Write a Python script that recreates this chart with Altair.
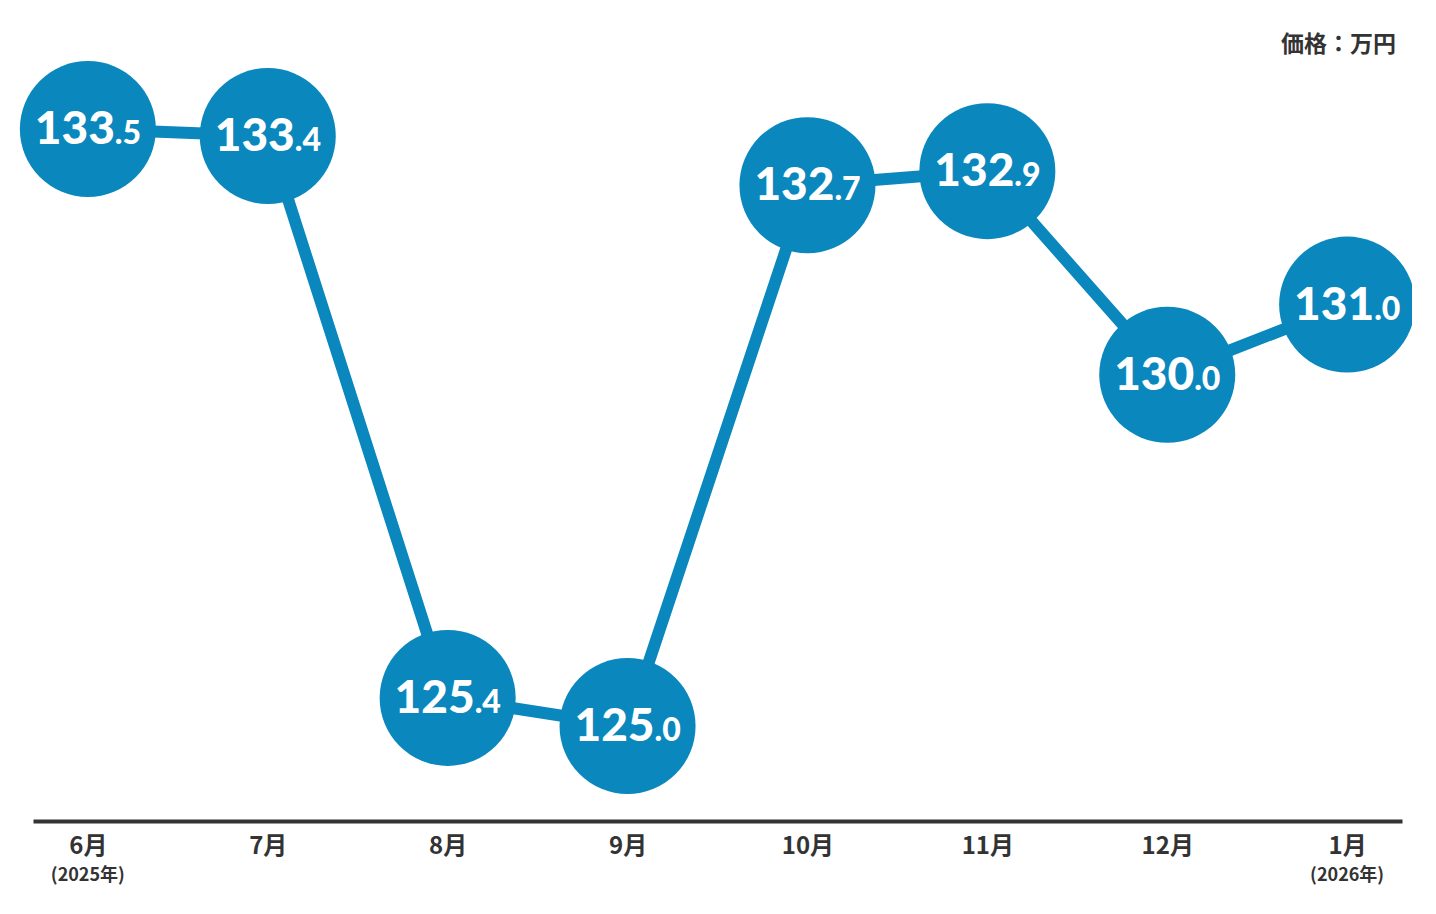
import altair as alt
import pandas as pd

months = ["6月", "7月", "8月", "9月", "10月", "11月", "12月", "1月"]
prices = [133.5, 133.4, 125.4, 125.0, 132.7, 132.9, 130.0, 131.0]
year_notes = ["(2025年)", "", "", "", "", "", "", "(2026年)"]
unit_label = "価格：万円"

BLUE = "#0a87bd"
DARK = "#333333"

df = pd.DataFrame({"month": months, "price": prices, "note": year_notes})
df["int_part"] = [f"{p:.1f}".split(".")[0] for p in prices]
df["dec_part"] = ["." + f"{p:.1f}".split(".")[1] for p in prices]

x_enc = alt.X(
    "month:N",
    sort=None,
    scale=alt.Scale(type="point", padding=0.305),
    axis=alt.Axis(
        title=None,
        labelAngle=0,
        labelFont="Noto Sans CJK JP",
        labelFontWeight="bold",
        labelFontSize=24,
        labelColor=DARK,
        labelBaseline="middle",
        labelPadding=25,
        ticks=False,
        domainColor=DARK,
        domainWidth=4,
        grid=False,
    ),
)
y_enc = alt.Y(
    "price:Q",
    scale=alt.Scale(domain=[125, 133.5], range=[718, 121]),
    axis=None,
)

base = alt.Chart(df).encode(x=x_enc, y=y_enc)

line = base.mark_line(color=BLUE, strokeWidth=12)
circles = base.mark_circle(color=BLUE, opacity=1, size=18500)
int_text = base.mark_text(
    align="right", baseline="alphabetic", dx=27, dy=15,
    font="Lato", fontWeight=900, fontSize=46, color="white",
).encode(text="int_part:N")
dec_text = base.mark_text(
    align="left", baseline="alphabetic", dx=27, dy=15,
    font="Lato", fontWeight=900, fontSize=32, color="white",
).encode(text="dec_part:N")

notes = alt.Chart(df).mark_text(
    font="Noto Sans CJK JP", fontWeight="bold", fontSize=18, color=DARK,
    baseline="middle",
).encode(x=alt.X("month:N", sort=None), y=alt.value(868), text="note:N")

unit = alt.Chart(pd.DataFrame({"t": [unit_label]})).mark_text(
    font="Noto Sans CJK JP", fontWeight="bold", fontSize=23, color=DARK,
    align="right", baseline="middle",
).encode(x=alt.value(1363), y=alt.value(37), text="t:N")

chart = (
    alt.layer(line, circles, int_text, dec_text, notes, unit)
    .properties(
        width=1369,
        height=813,
        autosize=alt.AutoSizeParams(type="none"),
        padding={"left": 25, "top": 0, "right": 10, "bottom": 80},
        background="white",
    )
    .configure_view(stroke=None)
)

chart.save("out.html", embed_options={"renderer": "svg", "actions": False})
